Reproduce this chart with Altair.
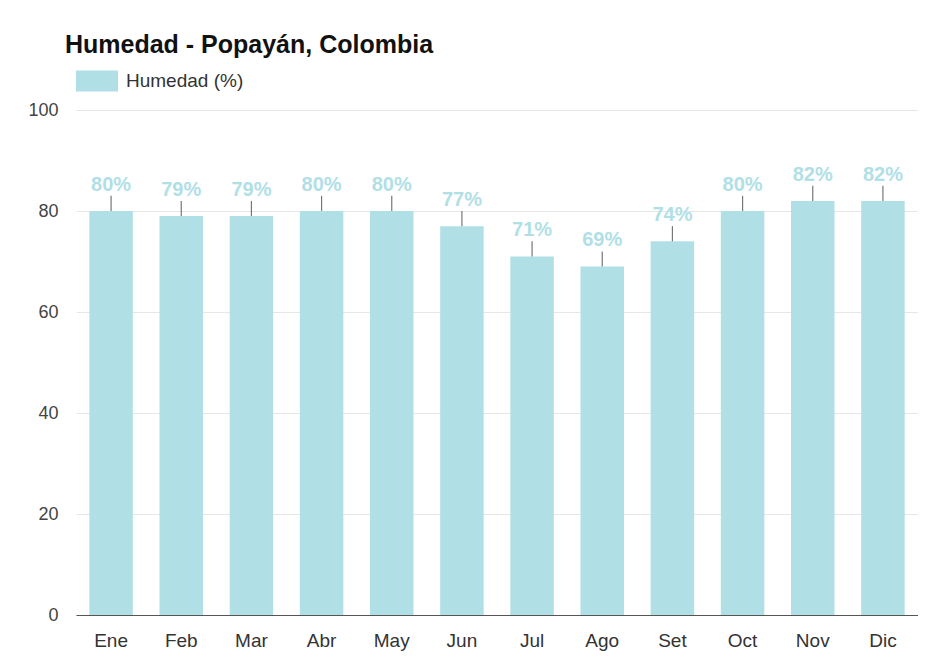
import altair as alt
import pandas as pd

months = ["Ene", "Feb", "Mar", "Abr", "May", "Jun", "Jul", "Ago", "Set", "Oct", "Nov", "Dic"]
humidity = [80, 79, 79, 80, 80, 77, 71, 69, 74, 80, 82, 82]
series_name = "Humedad (%)"

df = pd.DataFrame({"mes": months, "h": humidity, "serie": [series_name] * len(months)})

FONT = "Liberation Sans"
BAR = "#b0e0e6"

x = alt.X("mes:N", sort=months, title=None,
          scale=alt.Scale(paddingInner=0.38, paddingOuter=0.19),
          axis=alt.Axis(labelAngle=0, ticks=False, domainColor="#555", domainWidth=1.2,
                        labelFontSize=19, labelColor="#333", labelPadding=16, labelFont=FONT))

base = alt.Chart(df).encode(x=x)

bars = base.mark_bar(color=BAR).encode(
    y=alt.Y("h:Q", scale=alt.Scale(domain=[0, 100]), title=None,
            axis=alt.Axis(values=[0, 20, 40, 60, 80, 100], ticks=False, domain=False,
                          gridColor="#e6e6e6", labelFontSize=18, labelColor="#444",
                          labelPadding=18, labelFont=FONT)),
    color=alt.Color("serie:N", scale=alt.Scale(range=[BAR]), title=None,
                    legend=alt.Legend(orient="none", legendX=0, legendY=-50,
                                      symbolType="M-1,-0.5L1,-0.5L1,0.5L-1,0.5Z",
                                      symbolSize=1764, symbolStrokeWidth=0,
                                      labelFontSize=19, labelColor="#333", labelFont=FONT,
                                      labelOffset=8)),
)

ticks = base.transform_calculate(top="datum.h + 3").mark_rule(color="#777", strokeWidth=1.2).encode(
    y="h:Q", y2="top:Q")

labels = base.transform_calculate(top="datum.h + 3", lbl="datum.h + '%'").mark_text(
    baseline="bottom", dy=-1, fontSize=20, fontWeight="bold", color=BAR, font=FONT
).encode(y="top:Q", text="lbl:N")

chart = alt.layer(bars, ticks, labels).properties(
    width=842, height=505,
    title=alt.Title("Humedad - Popayán, Colombia", anchor="start", fontSize=25, font=FONT,
                    fontWeight="bold", color="#111", dx=37, offset=2),
    autosize=alt.AutoSizeParams(type="none"),
    padding={"left": 68, "top": 102, "right": 0, "bottom": 40},
).configure_view(stroke=None)

chart.save("out.html", embed_options={"renderer": "svg", "actions": False})
